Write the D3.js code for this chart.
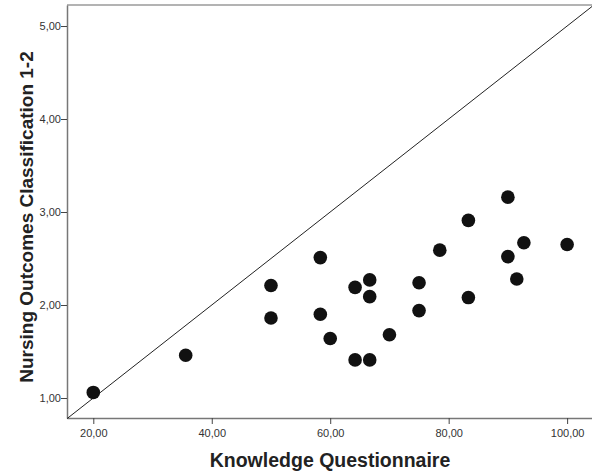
<!DOCTYPE html>
<html><head><meta charset="utf-8">
<script src="https://cdn.jsdelivr.net/npm/d3@7"></script>
<style>body{margin:0;background:#fff}svg{display:block}</style>
</head><body>
<script>
const knowledge = [90, 83.33, 92.7, 100, 78.5, 90, 58.33, 66.67, 64.2, 66.67, 75, 91.5, 83.33, 58.33, 75, 60, 70, 64.2, 66.67, 20, 35.6, 50, 50];
const noc = [3.16, 2.91, 2.67, 2.65, 2.59, 2.52, 2.51, 2.27, 2.19, 2.09, 2.24, 2.28, 2.08, 1.90, 1.94, 1.64, 1.68, 1.41, 1.41, 1.06, 1.46, 2.21, 1.86];
const xTicks = [20, 40, 60, 80, 100];
const yTicks = [1, 2, 3, 4, 5];
const xTitle = "Knowledge Questionnaire";
const yTitle = "Nursing Outcomes Classification 1-2";

const W = 592, H = 473;
const L = 67, T = 5, R = 592, B = 418;
const svg = d3.select("body").append("svg").attr("width", W).attr("height", H);
const x = d3.scaleLinear().domain([15.56, 104.2]).range([L, R]);
const y = d3.scaleLinear().domain([0.785, 5.226]).range([B, T]);
const fmt = d => d.toFixed(2).replace(".", ",");

svg.append("line").attr("x1", L).attr("x2", R).attr("y1", T).attr("y2", T)
  .attr("stroke", "#9a9a9a").attr("stroke-width", 1.5);

const gx = svg.append("g").attr("transform", `translate(0,${B})`)
  .call(d3.axisBottom(x).tickValues(xTicks).tickFormat(fmt).tickSize(6).tickSizeOuter(0));
const gy = svg.append("g").attr("transform", `translate(${L},0)`)
  .call(d3.axisLeft(y).tickValues(yTicks).tickFormat(fmt).tickSize(6).tickSizeOuter(0));
[gx, gy].forEach(g => {
  g.select(".domain").attr("stroke", "#777").attr("stroke-width", 1.5);
  g.selectAll(".tick line").attr("stroke", "#444").attr("stroke-width", 1);
  g.selectAll(".tick text").attr("fill", "#333").attr("font-family", "Liberation Sans, Arial, sans-serif").attr("font-size", 11);
});
gx.selectAll(".tick text").attr("dy", "0.9em");
gy.selectAll(".tick text").attr("x", -6);

svg.append("line")
  .attr("x1", x(15.56)).attr("y1", y(15.56 / 20))
  .attr("x2", x(104.2)).attr("y2", y(104.2 / 20))
  .attr("stroke", "#222").attr("stroke-width", 1);

svg.append("g").selectAll("circle").data(knowledge).join("circle")
  .attr("cx", d => x(d)).attr("cy", (d, i) => y(noc[i])).attr("r", 6.8)
  .attr("fill", "#111");

svg.append("text").attr("x", 330).attr("y", 467).attr("text-anchor", "middle")
  .attr("font-family", "Liberation Sans, Arial, sans-serif").attr("font-weight", "bold")
  .attr("font-size", 19.5).attr("fill", "#222").text(xTitle);
svg.append("text").attr("transform", `translate(33,217) rotate(-90)`).attr("text-anchor", "middle")
  .attr("font-family", "Liberation Sans, Arial, sans-serif").attr("font-weight", "bold")
  .attr("font-size", 19).attr("fill", "#222").text(yTitle);
</script>
</body></html>
